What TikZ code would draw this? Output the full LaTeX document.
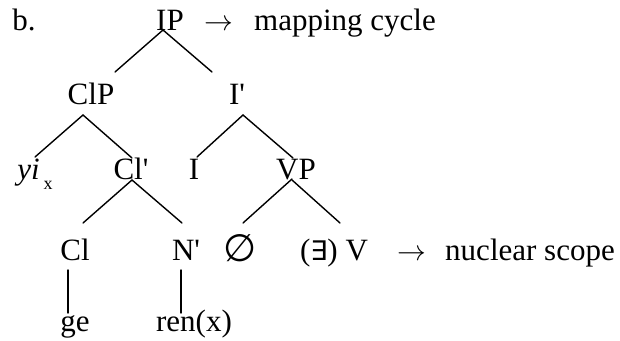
\documentclass[tikz,border=0pt]{standalone}
\usepackage{fontspec}
\setmainfont{Liberation Serif}[Ligatures=TeXOff]
\newfontfamily\symfont{DejaVu Sans}
\usetikzlibrary{calc}
\tikzset{every node/.append style={align=center}}
\tikzset{
  lbl/.style={anchor=base, inner sep=0pt, font=\fontsize{15.5}{18}\selectfont},
  branch/.style={line width=0.7pt, line cap=round}
}

\begin{document}
\begin{tikzpicture}[x=0.5pt,y=0.5pt]
\useasboundingbox (0,0) rectangle (620,-341);

% ── Example label and top node ──────────────────────────────────────────────
\node[lbl] (ex)    at (24,-31)  {b.};
\node[lbl] (ip)    at (170,-31) {IP};
\node[lbl] (arra)  at (219,-31) {$\rightarrow$};
\node[lbl] (mapc)  at (345,-31) {mapping cycle};

% ── Second and third rows ───────────────────────────────────────────────────
\node[lbl] (clp)   at (91,-105)  {ClP};
\node[lbl] (ibar)  at (237,-105) {I'};
\node[lbl] (yi)    at (35,-180)  {\textit{yi}\kern2pt\raisebox{-5pt}{\fontsize{9}{10}\selectfont x}};
\node[lbl] (clbar) at (131,-180) {Cl'};
\node[lbl] (i)     at (194,-180) {I};
\node[lbl] (vp)    at (296,-180) {VP};

% ── Fourth row ──────────────────────────────────────────────────────────────
\node[lbl] (cl)    at (75,-261)  {Cl};
\node[lbl] (nbar)  at (186,-261) {N'};
\node[lbl] (empty) at (240,-262) {{\symfont\fontsize{19}{20}\selectfont ∅}};
\node[lbl] (v)     at (334,-261) {({\symfont\fontsize{13.5}{16}\selectfont ∃}) V};
\node[lbl] (arrb)  at (412,-261) {$\rightarrow$};
\node[lbl] (nucs)  at (530,-261) {nuclear scope};

% ── Leaves ──────────────────────────────────────────────────────────────────
\node[lbl] (ge)    at (75,-331)  {ge};
\node[lbl] (ren)   at (194,-331) {ren(x)};

% Branches: parent/offset/child/offset
\foreach \a/\ax/\ay/\b/\bx/\by in {ip/-7/1/clp/24/33, ip/-7/1/ibar/-25/33,
    clp/-8/-10/yi/0/23, clp/-8/-10/clbar/1/22,
    ibar/6/-10/i/3/23, ibar/6/-10/vp/-3/22,
    clbar/1/0/cl/8/38, clbar/1/0/nbar/-4/38,
    vp/-4/1/empty/3/39, vp/-4/0/v/6/38,
    cl/-7/-9/ge/-7/18, nbar/-5/-9/ren/-13/18} {
  \draw[branch] ($(\a.base)+(\ax,\ay)$) -- ($(\b.base)+(\bx,\by)$);
}

\end{tikzpicture}
\end{document}
